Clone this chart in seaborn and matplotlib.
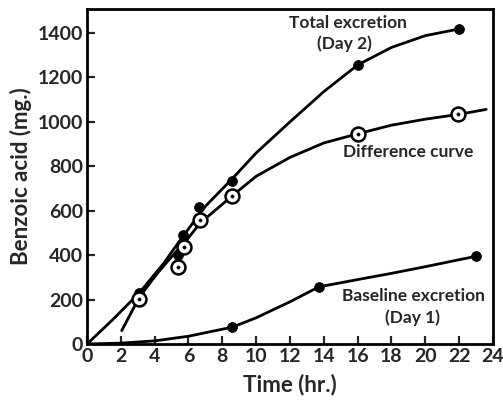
import matplotlib
matplotlib.use("Agg")
import matplotlib.pyplot as plt
import seaborn as sns
import pandas as pd

# Measured points
total_t = [3.1, 5.4, 5.7, 6.65, 8.6, 16.0, 22.0]
total_v = [231, 402, 492, 615, 735, 1256, 1418]
diff_t = [3.1, 5.35, 5.75, 6.7, 8.6, 16.0, 21.95]
diff_v = [203, 347, 437, 556, 667, 946, 1034]
base_t = [8.6, 13.7, 23.0]
base_v = [76, 257, 395]

# Curves as drawn
total_curve_t = [0, 1.5, 3.1, 4.5, 5.7, 7.0, 8.6, 10, 12, 14, 16, 18, 20, 22]
total_curve_v = [0, 108, 231, 360, 488, 620, 745, 860, 1000, 1136, 1256, 1335, 1388, 1418]
diff_curve_t = [2.05, 3.1, 4.2, 5.2, 5.75, 6.7, 8.6, 10, 12, 14, 16, 18, 20, 22, 23.6]
diff_curve_v = [60, 212, 322, 410, 455, 545, 668, 755, 840, 905, 946, 985, 1012, 1034, 1056]
base_curve_t = [0, 2, 4, 6, 8.6, 10, 12, 13.7, 16, 18, 20, 23]
base_curve_v = [0, 4, 14, 35, 76, 118, 190, 257, 290, 318, 348, 395]

x_ticks = list(range(0, 25, 2))
y_ticks = list(range(0, 1401, 200))

sns.set_style("white")
plt.rcParams['font.family'] = ['Lato', 'DejaVu Sans']

fig = plt.figure(figsize=(5.03, 4.00), dpi=100)
ax = fig.add_axes([0.173, 0.14, 0.807, 0.8375])

lw = 2.0
for ct, cv in [(total_curve_t, total_curve_v), (diff_curve_t, diff_curve_v), (base_curve_t, base_curve_v)]:
    sns.lineplot(x=ct, y=cv, ax=ax, color='black', lw=lw, sort=False, estimator=None)

sns.scatterplot(x=total_t, y=total_v, ax=ax, color='black', s=50, edgecolor='black', zorder=3)
sns.scatterplot(x=base_t, y=base_v, ax=ax, color='black', s=50, edgecolor='black', zorder=3)
sns.scatterplot(x=diff_t, y=diff_v, ax=ax, color='white', s=100, edgecolor='black', linewidth=1.8, zorder=4)
sns.scatterplot(x=diff_t, y=diff_v, ax=ax, color='black', s=6, edgecolor='black', zorder=5)

ax.set_xlim(0, 24)
ax.set_ylim(0, 1508)
ax.set_xticks(x_ticks)
ax.set_yticks(y_ticks)
ax.tick_params(direction='in', length=6, width=1.6, labelsize=14, pad=3,
               top=False, right=False, bottom=True, left=True)
for lab in ax.get_xticklabels() + ax.get_yticklabels():
    lab.set_fontweight('bold')
for sp in ax.spines.values():
    sp.set_linewidth(2.0)
    sp.set_color('black')

ax.set_xlabel('Time (hr.)', fontsize=16, fontweight='bold', labelpad=6)
ax.set_ylabel('Benzoic acid (mg.)', fontsize=16, fontweight='bold', labelpad=4)

tk = dict(fontsize=12.5, fontweight='bold', ha='center', va='center')
ax.text(15.4, 1446, 'Total excretion', **tk)
ax.text(15.2, 1352, '(Day 2)', **tk)
ax.text(19.0, 865, 'Difference curve', **tk)
ax.text(19.3, 215, 'Baseline excretion', **tk)
ax.text(19.25, 119, '(Day 1)', **tk)

fig.savefig('out.png', dpi=100)
